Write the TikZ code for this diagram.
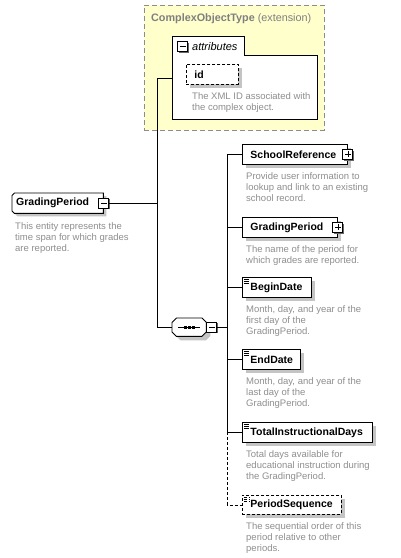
\documentclass[tikz,border=0pt]{standalone}
\usepackage{fontspec}
\setmainfont{Liberation Sans}
\usetikzlibrary{shadows,backgrounds}
\definecolor{desccol}{HTML}{8E8E8E}
\definecolor{shcol}{HTML}{C4C4C4}
\definecolor{extfill}{HTML}{FFFFCC}
\definecolor{extline}{HTML}{8C8C8C}
\definecolor{titlecol}{HTML}{7F7F7F}
\tikzset{
  shad/.style={drop shadow={shadow xshift=4pt,shadow yshift=-4pt,fill=shcol,opacity=1}},
  elem/.style={draw, fill=white, line width=0.9pt, shad, anchor=north west,
    minimum height=20pt, inner xsep=8pt, inner ysep=0pt, align=left,
    font=\fontsize{10.5}{12}\selectfont\bfseries},
  optdash/.style={dash pattern=on 3pt off 2pt},
  leaf/.style={path picture={
    \foreach \d in {2,4,6}
      \draw[line width=0.6pt] ([xshift=1.5pt,yshift=-\d pt]path picture bounding box.north west) -- ++(5.5,0);}},
  expander/.style={draw, fill=white, line width=0.9pt, minimum size=10pt, inner sep=0pt,
    drop shadow={shadow xshift=1.2pt,shadow yshift=-1.2pt,fill=black!60,opacity=1}},
  minusbox/.style={expander, path picture={
    \draw[line width=0.8pt] ([xshift=2pt]path picture bounding box.west) -- ([xshift=-2pt]path picture bounding box.east);}},
  plusbox/.style={expander, path picture={
    \draw[line width=0.8pt] ([xshift=2pt]path picture bounding box.west) -- ([xshift=-2pt]path picture bounding box.east);
    \draw[line width=0.8pt] ([yshift=-2pt]path picture bounding box.north) -- ([yshift=2pt]path picture bounding box.south);}},
  desc/.style={anchor=north west, inner sep=0pt, align=left, text=desccol,
    font=\fontsize{9.5}{11}\selectfont},
  conn/.style={line width=0.9pt},
  outline/.style={draw, fill=white, line width=0.9pt},
}
\begin{document}
\begin{tikzpicture}[x=1pt,y=-1pt]
\useasboundingbox (0,0) rectangle (400,558);

% extension container
\node[draw=extline, fill=extfill, dash pattern=on 5pt off 3pt, line width=0.9pt,
  minimum width=180pt, minimum height=125pt, inner sep=0pt, anchor=north west] (ext) at (144,5) {};
\node[anchor=base west, inner sep=0pt, text=titlecol, font=\fontsize{10.8}{13}\selectfont]
  (extt) at (151,21) {\textbf{ComplexObjectType} (extension)};

% attributes group
\draw[fill=white, line width=0.9pt] (172,119) -- (172,36) -- (244,36) -- (244,55) -- (317,55) -- (317,119) -- cycle;
\coordinate (attrw) at (172,78);
\node[minusbox] (attrx) at (182.5,46.5) {};
\node[anchor=base west, inner sep=0pt, font=\fontsize{11}{13}\selectfont\itshape] (attrt) at (192,50) {attributes};
\node[elem, optdash, text width=36pt] (id) at (186,64) {id};
\node[desc] (idd) at (192,92.5) {The XML ID associated with\\the complex object.};

% main element
\node[anchor=north west, minimum width=91pt, minimum height=20pt,
  inner xsep=4pt, inner ysep=0pt, text width=83pt, align=left,
  font=\fontsize{10.5}{12}\selectfont\bfseries] (gp) at (12,193) {GradingPeriod};
\begin{scope}[on background layer]
\path[outline, drop shadow={shadow xshift=3pt,shadow yshift=-3pt,fill=shcol,opacity=1}]
  ([xshift=2.5pt]gp.north west) -- (gp.north east) -- (gp.south east) -- ([xshift=2.5pt]gp.south west)
  -- ([yshift=2.5pt]gp.south west) -- ([yshift=-2.5pt]gp.north west) -- cycle;
\end{scope}
\node[minusbox] (gpx) at ([xshift=0.5pt]gp.east) {};
\node[desc] (gpd) at (15,222) {This entity represents the\\time span for which grades\\are reported.};

% sequence compositor
\node[anchor=north west, minimum width=34pt, minimum height=18pt, inner sep=0pt] (seq) at (172,318) {};
\begin{scope}[on background layer]
\path[outline, shad]
  ([xshift=4.5pt]seq.north west) -- ([xshift=-4.5pt]seq.north east) -- ([yshift=-4.5pt]seq.north east)
  -- ([yshift=4.5pt]seq.south east) -- ([xshift=-4.5pt]seq.south east) -- ([xshift=4.5pt]seq.south west)
  -- ([yshift=4.5pt]seq.south west) -- ([yshift=-4.5pt]seq.north west) -- cycle;
\end{scope}
\draw[line width=0.9pt] ([xshift=6pt]seq.west) -- ([xshift=-6pt]seq.east);
\foreach \s in {-4,0,4}
  \fill ([xshift=\s pt]seq.center) +(-1.3,-1.3) rectangle +(1.3,1.3);
\node[minusbox, anchor=west] (seqx) at (seq.east) {};

% children
\node[elem, text width=89pt] (sr) at (242,144) {SchoolReference};
\node[plusbox] (srx) at (sr.east) {};
\node[desc] (srd) at (246,172.5) {Provide user information to\\lookup and link to an existing\\school record.};

\node[elem, text width=79pt] (gpc) at (242,217) {GradingPeriod};
\node[plusbox] (gpcx) at (gpc.east) {};
\node[desc] (gpcd) at (246,245.5) {The name of the period for\\which grades are reported.};

\node[elem, leaf, text width=53pt] (bd) at (242,277) {BeginDate};
\node[desc] (bdd) at (246,305.5) {Month, day, and year of the\\first day of the\\GradingPeriod.};

\node[elem, leaf, text width=42pt] (ed) at (242,349) {EndDate};
\node[desc] (edd) at (246,377.5) {Month, day, and year of the\\last day of the\\GradingPeriod.};

\node[elem, leaf, text width=114pt] (tid) at (242,422) {TotalInstructionalDays};
\node[desc] (tidd) at (246,450) {Total days available for\\educational instruction during\\the GradingPeriod.};

\node[elem, leaf, optdash, text width=83pt, minimum height=19pt] (ps) at (242,495) {PeriodSequence};
\node[desc] (psd) at (246,522) {The sequential order of this\\period relative to other\\periods.};

% connectors
\coordinate (trunk) at (157,203);
\coordinate (bus) at (227,327);
\draw[conn] (gpx.east) -- (gpx.east -| trunk);
\draw[conn] (trunk |- attrw) -- (attrw);
\draw[conn] (trunk |- attrw) -- (trunk |- seq.west);
\draw[conn] (trunk |- seq.west) -- (seq.west);
\draw[conn] (seqx.east) -- (seqx.east -| bus);
\draw[conn] (bus |- sr.west) -- (bus |- tid.west);
\draw[conn, optdash] (bus |- tid.west) -- (bus |- ps.west) -- (ps.west);
\foreach \n in {sr,gpc,bd,ed,tid}
  \draw[conn] (bus |- \n.west) -- (\n.west);
\end{tikzpicture}
\end{document}
